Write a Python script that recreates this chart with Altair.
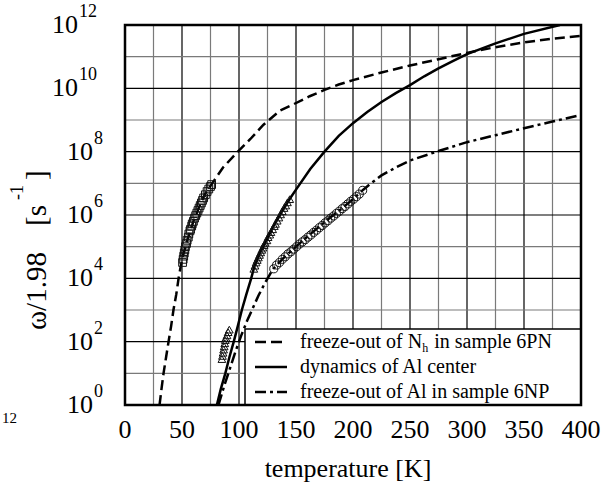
import altair as alt
import pandas as pd

# ---------------- data (exponents of omega/1.98) -------------
# fitted curve: freeze-out of N_h in sample 6PN (dashed)
nh_T = [30.3, 32, 33.8, 36, 38.2, 40.5, 42.5, 45, 47, 50, 55, 60, 65, 70, 76.5, 86, 99,
        110, 121.5, 136, 148, 162, 175, 187.5, 200, 225, 250, 275, 300, 325, 350, 375, 400]
nh_exp = [0, 0.5, 1, 1.5, 2, 2.5, 3, 3.5, 4, 4.6, 5.25, 5.8, 6.25, 6.65, 7.0, 7.5, 8.0,
          8.4, 8.85, 9.3, 9.5, 9.75, 9.95, 10.12, 10.26, 10.5, 10.72, 10.92, 11.12, 11.3,
          11.45, 11.57, 11.66]

# fitted curve: dynamics of Al center (solid)
al_T = [80.6, 84, 88, 91.5, 95.4, 99, 102.5, 106.5, 110.7, 113.5, 119, 125, 131, 137.5,
        144, 150, 162.5, 175, 187.5, 200, 212.5, 225, 237.5, 250, 262.5, 275, 287.5, 300,
        325, 350, 381.5]
al_exp = [0, 0.5, 1, 1.5, 2, 2.5, 3, 3.5, 4, 4.38, 4.85, 5.27, 5.7, 6.1, 6.48, 6.8, 7.45,
          8.0, 8.5, 8.9, 9.25, 9.57, 9.85, 10.1, 10.38, 10.63, 10.86, 11.08, 11.42, 11.72,
          12.0]

# fitted curve: freeze-out of Al in sample 6NP (dash-dot)
np_T = [82, 87, 92, 97, 102, 107, 112, 117, 122, 127, 130, 140, 150, 160, 170, 180, 190,
        200, 209, 215, 225, 237.5, 250, 275, 300, 325, 350, 375, 400]
np_exp = [0, 0.6, 1.15, 1.7, 2.2, 2.65, 3.05, 3.45, 3.8, 4.12, 4.3, 4.68, 5.0, 5.32, 5.62,
          5.92, 6.2, 6.5, 6.8, 6.98, 7.25, 7.5, 7.72, 8.02, 8.3, 8.52, 8.74, 8.95, 9.16]

# measured points: squares (N_h, 6PN)
sq_T = [50.5, 51, 51.5, 52, 52.5, 53, 54, 54.5, 55.5, 56, 57, 57.5, 58.5, 59, 60, 61, 62,
        63, 64, 65, 66, 67, 68, 69, 70.5, 72, 73.5, 75, 76]
sq_exp = [4.5, 4.6, 4.7, 4.8, 4.9, 5.0, 5.1, 5.2, 5.3, 5.4, 5.5, 5.55, 5.65, 5.72, 5.8,
          5.9, 5.98, 6.06, 6.14, 6.22, 6.3, 6.38, 6.46, 6.54, 6.64, 6.74, 6.82, 6.9, 6.96]

# measured points: triangles (Al center)
tri_T = [85, 85.5, 86, 86.5, 87, 87.5, 88, 88.5, 89.5, 90.5, 91.5, 113, 114, 115, 116,
         117, 118, 119, 120, 121, 122, 123, 124.5, 125.5, 127, 128, 129.5, 131, 132,
         133.5, 135, 136.5, 138, 139.5, 141, 142.5, 144.5]
tri_exp = [1.45, 1.55, 1.65, 1.75, 1.85, 1.95, 2.05, 2.12, 2.2, 2.3, 2.38, 4.3, 4.4, 4.5,
           4.58, 4.66, 4.74, 4.82, 4.9, 4.97, 5.05, 5.12, 5.2, 5.3, 5.38, 5.46, 5.55,
           5.65, 5.72, 5.82, 5.92, 6.02, 6.12, 6.22, 6.3, 6.4, 6.5]

# measured points: circles (Al, 6NP)
circ_T = [130.5, 133, 135.5, 138, 140.5, 143, 145.5, 148, 150.5, 153, 155.5, 158, 160.5,
          163, 165.5, 168, 170.5, 173, 175.5, 178, 180.5, 183, 185.5, 188, 190.5, 193,
          195.5, 198, 200.5, 203, 205.5, 208.5]
circ_exp = [4.3, 4.42, 4.5, 4.6, 4.68, 4.77, 4.84, 4.92, 5.0, 5.08, 5.15, 5.22, 5.3, 5.37,
            5.45, 5.52, 5.6, 5.67, 5.75, 5.82, 5.9, 5.97, 6.05, 6.12, 6.2, 6.27, 6.35,
            6.43, 6.5, 6.58, 6.66, 6.78]

# axes
x_ticks = [0, 50, 100, 150, 200, 250, 300, 350, 400]
y_tick_exps = [0, 2, 4, 6, 8, 10, 12]
x_grid = [25, 50, 75, 100, 125, 150, 175, 200, 225, 250, 275, 300, 325, 350, 375]
y_grid_exps = [1, 2, 3, 4, 5, 6, 7, 8, 9, 10, 11]

legend_labels = ["freeze-out of N", "h", "in sample 6PN",
                 "dynamics of Al center", "freeze-out of Al in sample 6NP"]
y_title_parts = ["ω/1.98", "[s", "-1", "]"]

# ---------------- layout ----------------
W, H = 456, 380
FONT = "Liberation Serif, Times New Roman, Times, serif"
BIG = 26
SUP = 18
LEG = 20

xs = alt.Scale(domain=[0, 400], nice=False, zero=False)
ys = alt.Scale(type="log", domain=[1, 1e12], nice=False)


def frame(T, e):
    return pd.DataFrame({"T": T, "w": [10.0 ** v for v in e]})


def X():
    return alt.X("T:Q", scale=xs, axis=None)


def Y():
    return alt.Y("w:Q", scale=ys, axis=None)


one = alt.Data(values=[{"a": 1}])

# grid
vgrid = pd.DataFrame({"T": x_grid, "c": ["#000000" if t % 50 == 0 else "#7a7a7a" for t in x_grid]})
hgrid = pd.DataFrame({"w": [10.0 ** e for e in y_grid_exps],
                      "c": ["#000000" if e % 2 == 0 else "#7a7a7a" for e in y_grid_exps]})
grid_v = alt.Chart(vgrid).mark_rule(strokeWidth=1.2).encode(
    x=X(), color=alt.Color("c:N", scale=None))
grid_h = alt.Chart(hgrid).mark_rule(strokeWidth=1.2).encode(
    y=Y(), color=alt.Color("c:N", scale=None))

# curves
line_nh = alt.Chart(frame(nh_T, nh_exp)).mark_line(
    color="black", strokeWidth=2.5, strokeDash=[10, 5], clip=True).encode(x=X(), y=Y())
line_al = alt.Chart(frame(al_T, al_exp)).mark_line(
    color="black", strokeWidth=2.5, clip=True).encode(x=X(), y=Y())
line_np = alt.Chart(frame(np_T, np_exp)).mark_line(
    color="black", strokeWidth=2.5, strokeDash=[11, 4, 3, 4], clip=True).encode(x=X(), y=Y())

# points
p_sq = alt.Chart(frame(sq_T, sq_exp)).mark_point(
    shape="square", filled=False, size=60, color="#111111", opacity=1, strokeWidth=1).encode(x=X(), y=Y())
p_tri = alt.Chart(frame(tri_T, tri_exp)).mark_point(
    shape="triangle-up", filled=False, size=60, color="#111111", opacity=1, strokeWidth=1).encode(x=X(), y=Y())
p_circ = alt.Chart(frame(circ_T, circ_exp)).mark_point(
    shape="circle", filled=False, size=65, color="#111111", opacity=1, strokeWidth=1).encode(x=X(), y=Y())

# x tick labels
xt = pd.DataFrame({"T": x_ticks, "lab": [str(v) for v in x_ticks]})
x_labels = alt.Chart(xt).mark_text(font=FONT, fontSize=BIG, baseline="middle", align="center").encode(
    x=X(), y=alt.value(H + 25), text="lab:N")


# y tick labels (10 + superscript)
def ylabels(exps, base_right):
    d = pd.DataFrame({"w": [10.0 ** e for e in exps], "sup": [str(e) for e in exps]})
    base = alt.Chart(d).mark_text(font=FONT, fontSize=BIG, baseline="middle", align="right").encode(
        x=alt.value(base_right), y=Y(), text=alt.value("10"))
    sup = alt.Chart(d).mark_text(font=FONT, fontSize=SUP, baseline="middle", align="left", dy=-13).encode(
        x=alt.value(base_right + 1), y=Y(), text="sup:N")
    return [base, sup]


y_lab = ylabels([e for e in y_tick_exps if e < 10], -32) + ylabels([e for e in y_tick_exps if e >= 10], -47)

# axis titles
x_title = alt.Chart(one).mark_text(font=FONT, fontSize=BIG, baseline="middle", align="center").encode(
    x=alt.value(W / 2 - 5), y=alt.value(H + 64), text=alt.value("temperature [K]"))

YT = 29


def ypiece(txt, x, y, size):
    return alt.Chart(one).mark_text(font=FONT, fontSize=size, baseline="middle", align="left", angle=270).encode(
        x=alt.value(x), y=alt.value(y), text=alt.value(txt))


y_title = [
    ypiece(y_title_parts[0], -88, 305, YT),
    ypiece(y_title_parts[1], -88, 201, YT),
    ypiece(y_title_parts[2], -107, 175, SUP),
    ypiece(y_title_parts[3], -88, 155, YT),
]

stray = alt.Chart(one).mark_text(font=FONT, fontSize=15, baseline="middle", align="left").encode(
    x=alt.value(-123), y=alt.value(393), text=alt.value("12"))

# legend
LX0, LY0 = 120, 304
rows = [LY0 + 13, LY0 + 38, LY0 + 63]
leg_box = alt.Chart(one).mark_rect(fill="white", stroke="black", strokeWidth=1.5).encode(
    x=alt.value(LX0), x2=alt.value(W), y=alt.value(LY0), y2=alt.value(H))
leg_l1 = alt.Chart(one).mark_rule(color="black", strokeWidth=2.5, strokeDash=[11, 5]).encode(
    x=alt.value(130), x2=alt.value(162), y=alt.value(rows[0]))
leg_l2 = alt.Chart(one).mark_rule(color="black", strokeWidth=2.5).encode(
    x=alt.value(130), x2=alt.value(162), y=alt.value(rows[1]))
leg_l3 = alt.Chart(one).mark_rule(color="black", strokeWidth=2.5, strokeDash=[11, 4, 3, 4]).encode(
    x=alt.value(130), x2=alt.value(162), y=alt.value(rows[2]))

TX = 175
w1 = 6.108 * LEG


def ltext(txt, x, y, size=LEG, dy=0):
    return alt.Chart(one).mark_text(font=FONT, fontSize=size, baseline="middle", align="left", dy=dy).encode(
        x=alt.value(x), y=alt.value(y), text=alt.value(txt))


leg_t = [
    ltext(legend_labels[0], TX, rows[0]),
    ltext(legend_labels[1], TX + w1, rows[0], size=12, dy=6),
    ltext(legend_labels[2], TX + w1 + 12, rows[0]),
    ltext(legend_labels[3], TX, rows[1]),
    ltext(legend_labels[4], TX, rows[2]),
]

border = alt.Chart(one).mark_rect(fillOpacity=0, stroke="black", strokeWidth=2.5).encode(
    x=alt.value(0), x2=alt.value(W), y=alt.value(0), y2=alt.value(H))

chart = alt.layer(
    grid_v, grid_h, line_nh, line_al, line_np, p_sq, p_tri, p_circ,
    leg_box, leg_l1, leg_l2, leg_l3, *leg_t,
    x_labels, *y_lab, x_title, *y_title, stray, border
).properties(
    width=W, height=H,
    autosize=alt.AutoSizeParams(type="none"),
    padding={"left": 125, "top": 25, "right": 31, "bottom": 77},
).configure_view(stroke=None).configure(background="white")

chart.save("out.html", embed_options={"renderer": "svg", "actions": False})
